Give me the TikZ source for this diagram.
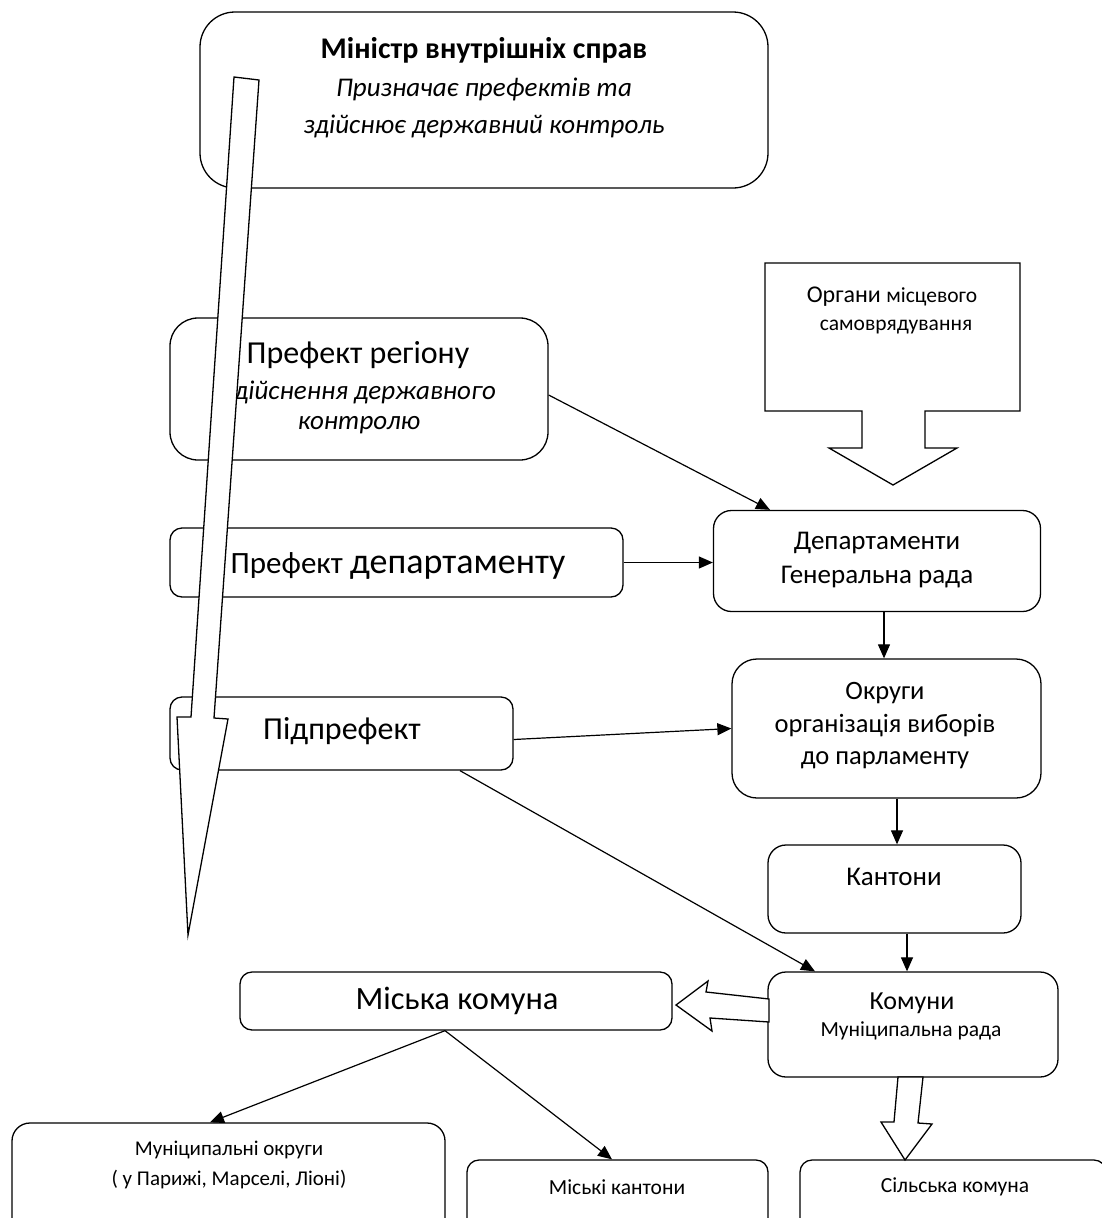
\documentclass[tikz,border=0pt]{standalone}
\usepackage{fontspec}
\setmainfont{Carlito}
\usetikzlibrary{arrows.meta,calc}
\begin{document}
\begin{tikzpicture}[x=1pt,y=-1pt,
  box/.style={draw,line width=1.3pt,rounded corners=#1,inner sep=0pt},
  box/.default=12pt,
  txt/.style={inner sep=0pt,align=center},
  arr/.style={line width=1.2pt,-{Triangle[length=14pt,width=12pt]}},
  hollow/.style={draw,fill=white,line width=1.3pt,line join=miter}]
\useasboundingbox (0,0) rectangle (1102,1218);
\clip (0,0) rectangle (1102,1218);

% boxes
\node[box=35pt,minimum width=568pt,minimum height=176pt] (mins) at (484,100) {};
\node[box=28pt,minimum width=378pt,minimum height=142pt] (pref) at (359,389) {};
\node[box,minimum width=453pt,minimum height=69pt] (prefd) at (396.5,562.5) {};
\node[box,minimum width=343pt,minimum height=73pt] (sub) at (341.5,733.5) {};
\node[box=18pt,minimum width=327pt,minimum height=101pt] (dep) at (877,561) {};
\node[box=25pt,minimum width=309pt,minimum height=139pt] (okr) at (886.5,728.5) {};
\node[box=18pt,minimum width=253pt,minimum height=88pt] (kant) at (894.5,889) {};
\node[box=18pt,minimum width=290pt,minimum height=105pt] (kom) at (913,1024.5) {};
\node[box,minimum width=432pt,minimum height=58pt] (misk) at (456,1001) {};
\node[box=18pt,minimum width=433pt,minimum height=160pt] (mun) at (228.5,1203) {};
\node[box=12pt,minimum width=301pt,minimum height=160pt] (mkant) at (617.5,1240) {};
\node[box=12pt,minimum width=306pt,minimum height=160pt] (silk) at (953,1240) {};

% callout "Органи"
\draw[line width=1.3pt,line join=miter] (765,263) -- (1020,263) -- (1020,411) -- (925,411) -- (925,448)
  -- (957,448) -- (893,485) -- (829,448) -- (862,448) -- (862,411) -- (765,411) -- cycle;

% texts
\node[txt,font=\fontsize{30}{36}\selectfont\bfseries] (t-mins1) at (484,50) {Міністр внутрішніх справ};
\node[txt,font=\fontsize{27}{37}\selectfont\itshape] (t-mins2) at (484,108) {Призначає префектів та\\здійснює державний контроль};
\node[txt,font=\fontsize{32}{36}\selectfont] (t-pref1) at (358,355) {Префект регіону};
\node[txt,anchor=west,font=\fontsize{27}{32}\selectfont\itshape] (t-pref2) at (234,392) {дійснення державного};
\node[txt,font=\fontsize{27}{32}\selectfont\itshape] (t-pref3) at (359,425) {контролю};
\node[txt] (t-prefd) at (398,566) {\fontsize{31}{36}\selectfont Префект \fontsize{36}{40}\selectfont департаменту};
\node[txt,font=\fontsize{32}{36}\selectfont] (t-sub) at (342,731) {Підпрефект};
\node[txt] (t-org1) at (892,297) {\fontsize{24}{28}\selectfont Органи \fontsize{21.5}{26}\selectfont місцевого};
\node[txt,font=\fontsize{21.5}{26}\selectfont] (t-org2) at (896,327) {самоврядування};
\node[txt,font=\fontsize{27}{34}\selectfont] (t-dep) at (877,560) {Департаменти\\Генеральна рада};
\node[txt,font=\fontsize{26.5}{32.5}\selectfont] (t-okr) at (885,726) {Округи\\організація виборів\\до парламенту};
\node[txt,font=\fontsize{27}{30}\selectfont] (t-kant) at (894,877) {Кантони};
\node[txt,font=\fontsize{26}{30}\selectfont] (t-kom1) at (912,1003) {Комуни};
\node[txt,font=\fontsize{21.5}{24}\selectfont] (t-kom2) at (911,1031) {Муніципальна рада};
\node[txt,font=\fontsize{32.5}{36}\selectfont] (t-misk) at (457,1001) {Міська комуна};
\node[txt,font=\fontsize{21}{30}\selectfont] (t-mun) at (229,1165) {Муніципальні округи\\( у Парижі, Марселі, Ліоні)};
\node[txt,font=\fontsize{21.5}{24}\selectfont] (t-mkant) at (617,1187) {Міські кантони};
\node[txt,font=\fontsize{21.5}{24}\selectfont] (t-silk) at (955,1187) {Сільська комуна};

% connectors
\draw[arr] ([yshift=-6pt]pref.east) -- ([xshift=-107pt]dep.north);
\draw[arr] (prefd.east) -- (prefd.east -| dep.west);
\draw[arr] ([xshift=7pt]dep.south) -- ([xshift=-2.5pt]okr.north);
\draw[arr] ([yshift=-6pt]sub.east) -- (okr.west);
\draw[arr] ([xshift=10.5pt]okr.south) -- ([xshift=2.5pt]kant.north);
\draw[arr] ([xshift=12.5pt]kant.south) -- ([xshift=-6pt]kom.north);
\draw[arr] ([xshift=118.5pt]sub.south) -- ([xshift=-98pt]kom.north);
\draw[arr] ([xshift=-11pt]misk.south) -- ([xshift=-18.5pt]mun.north);
\draw[arr] ([xshift=-11pt]misk.south) -- ([xshift=-5.5pt]mkant.north);

% hollow arrows
\draw[hollow] (769,999) -- (706,992) -- (708,981) -- (676,1005) -- (712,1031) -- (710,1018) -- (769,1022) -- cycle;
\draw[hollow] (898,1077) -- (894,1122) -- (881,1122) -- (905,1160) -- (932,1124) -- (918,1123) -- (923,1077) -- cycle;

% big arrow
\draw[hollow] (234,77) -- (259,80) -- (214,718) -- (228,719) -- (188,935) -- (177,717) -- (191,717) -- cycle;
\end{tikzpicture}
\end{document}
